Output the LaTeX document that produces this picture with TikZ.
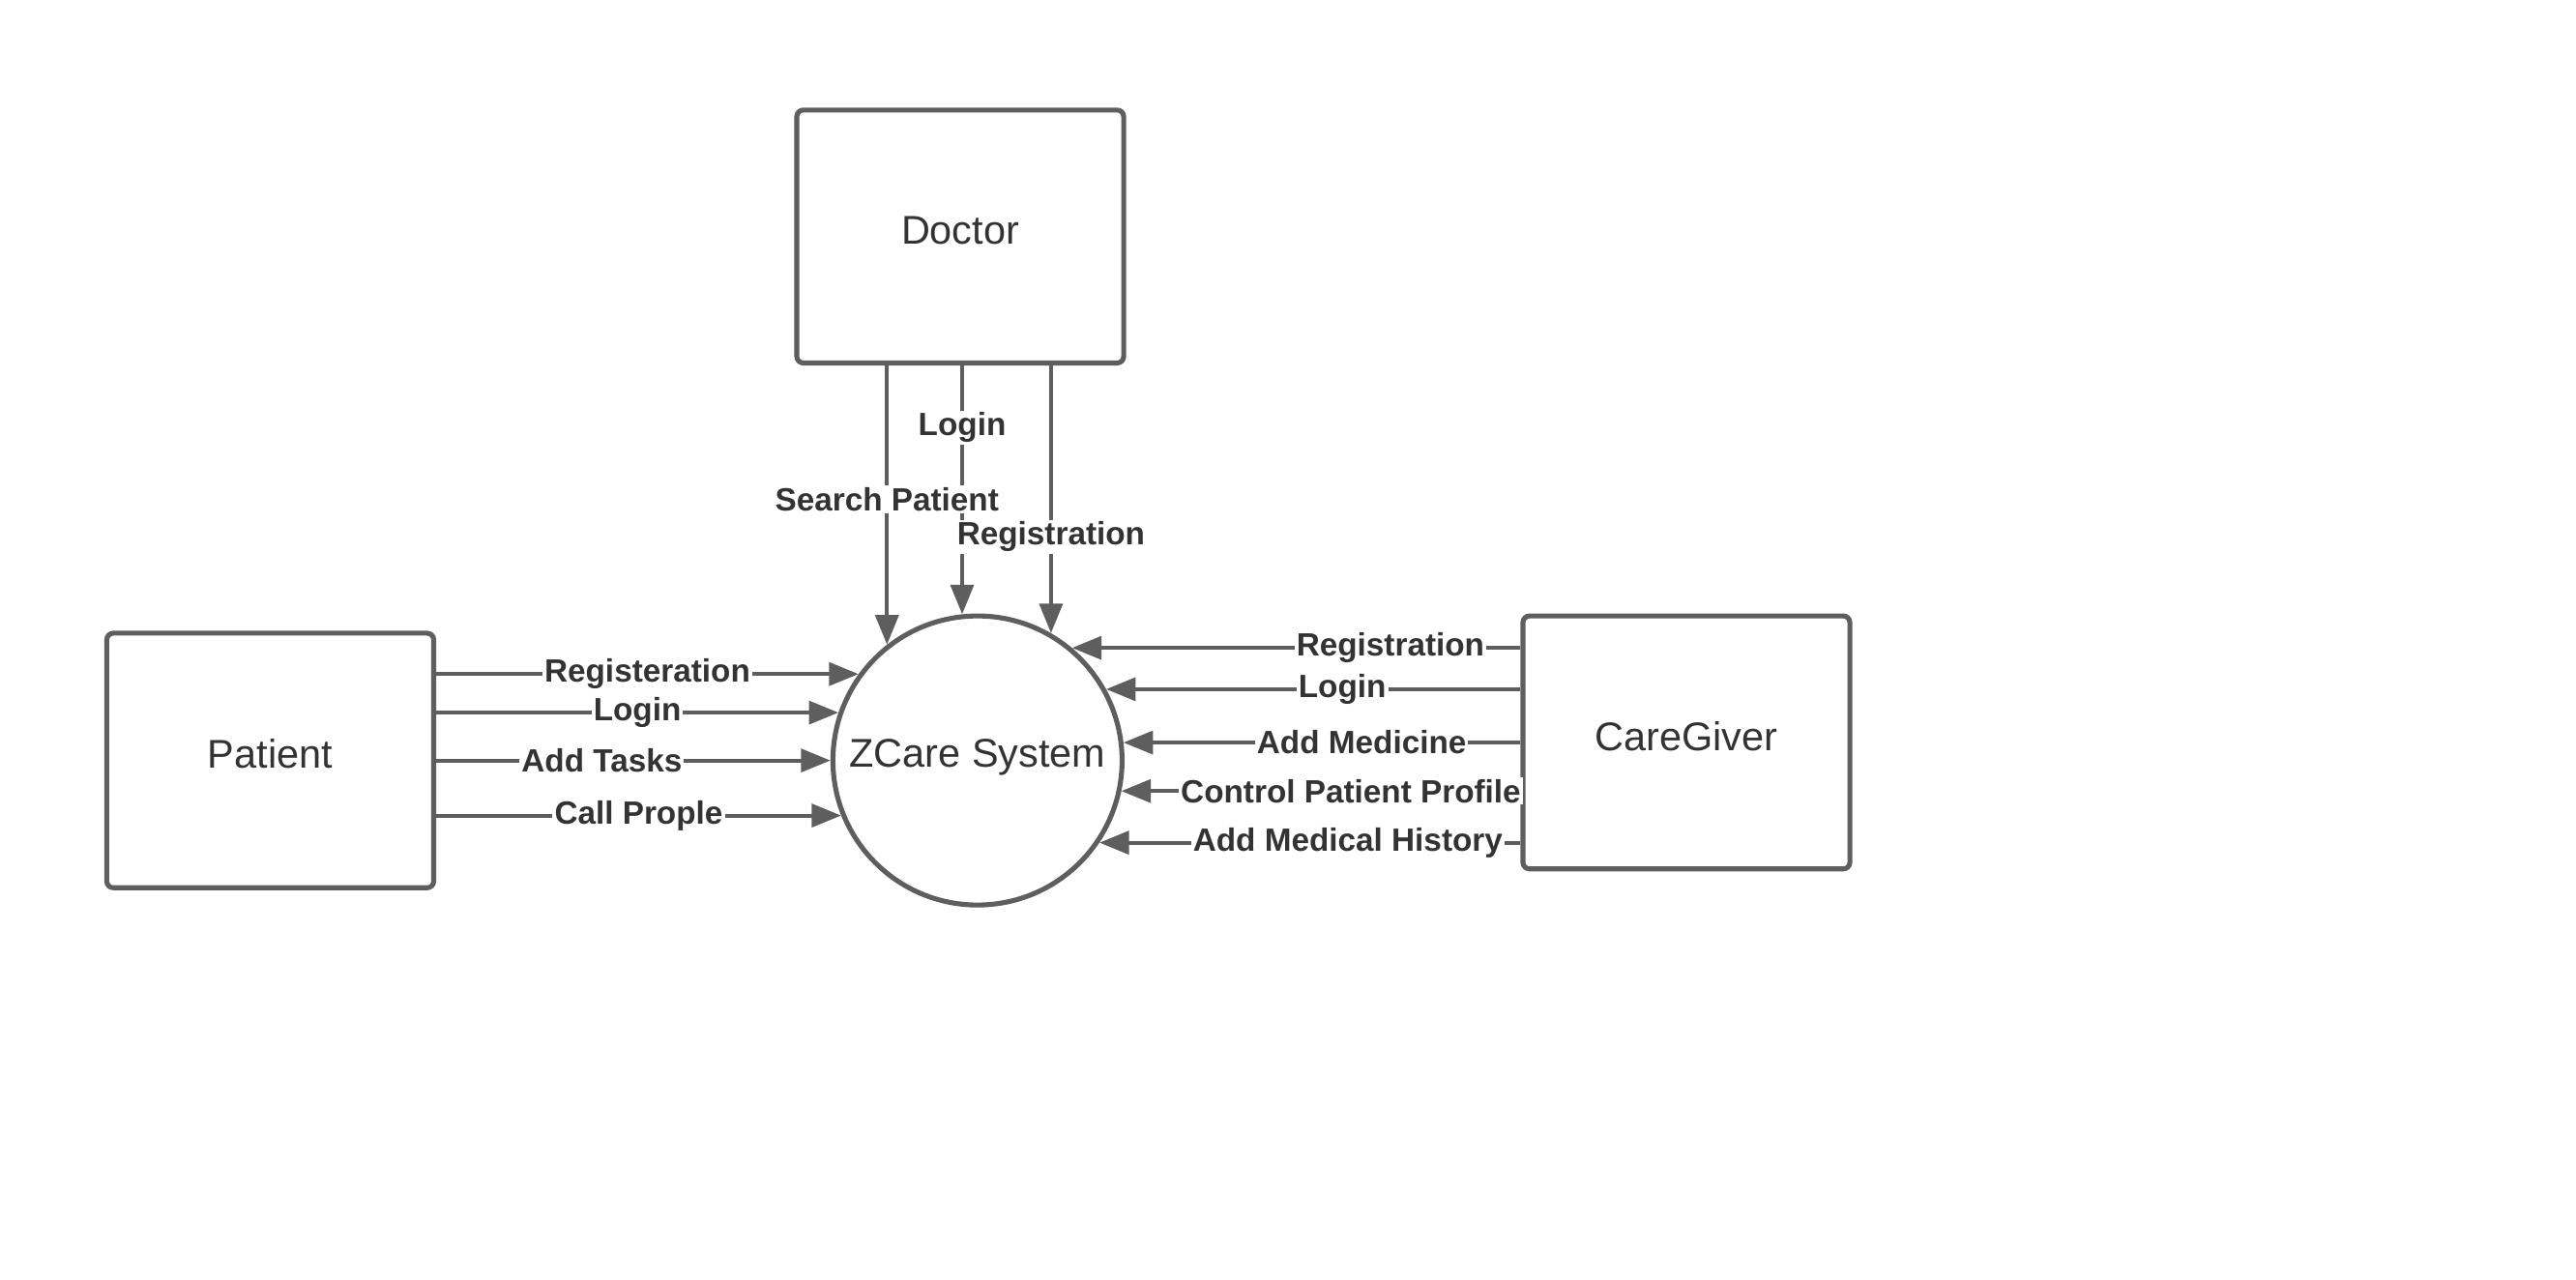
\documentclass[tikz,border=0pt]{standalone}
\usepackage{fontspec}
\setmainfont{Liberation Sans}
\usetikzlibrary{positioning,arrows.meta}
\definecolor{flowgray}{HTML}{5E5E5E}
\definecolor{txtgray}{HTML}{333333}

\begin{document}
\begin{tikzpicture}[x=0.5pt,y=-0.5pt,
   entity/.style={draw=flowgray,line width=1.5pt,rounded corners=2pt,minimum width=99.5pt,
   minimum height=77pt,text depth=4pt,text=txtgray,font=\fontsize{12.2}{14}\selectfont},
   proc/.style={circle,draw=flowgray,line width=1.5pt,minimum size=88pt,inner sep=0pt,
   text depth=4.5pt,text=txtgray,font=\fontsize{12.2}{14}\selectfont},
   flow/.style={draw=flowgray,line width=1.2pt,-{Triangle[length=9pt,width=7pt]}},
   lbl/.style={fill=white,inner sep=0.6pt,text=txtgray,font=\fontsize{9.8}{11}\selectfont\bfseries}]

 \useasboundingbox (0,0) rectangle (1568,779);

 \node[proc] (zsys) at (595,463) {ZCare System};
 \node[entity, above=75.5pt of zsys, xshift=-5.25pt] (doctor) {Doctor};
 \node[entity, left=120pt of zsys, minimum height=77.5pt] (patient) {Patient};
 \node[entity, right=120.5pt of zsys, yshift=5.5pt] (caregiver) {CareGiver};

 %doctor flows, login first so the other labels sit on top of it
 \draw[flow] (doctor.south -| zsys.96.5) -- node[lbl,pos=0.25]{Login} (zsys.96.5);
 \draw[flow] (doctor.south -| zsys.128.7) -- node[lbl,pos=0.48]{Search Patient} (zsys.128.7);
 \draw[flow] (doctor.south -| zsys.60.75) -- node[lbl,pos=0.64]{Registration} (zsys.60.75);

 %patient flows
 \draw[flow] (patient.east |- zsys.144.6) -- node[lbl,pos=0.5]{Registeration} (zsys.144.6);
 \draw[flow] (patient.east |- zsys.161.45) -- node[lbl,pos=0.5]{Login} (zsys.161.45);
 \draw[flow] (patient.east |- zsys.180) -- node[lbl,pos=0.42]{Add Tasks} (zsys.180);
 \draw[flow] (patient.east |- zsys.202.7) -- node[lbl,pos=0.5]{Call Prople} (zsys.202.7);

 %caregiver flows
 \draw[flow] (caregiver.west |- zsys.50.6) -- node[lbl,pos=0.29]{Registration} (zsys.50.6);
 \draw[flow] (caregiver.west |- zsys.29.25) -- node[lbl,pos=0.43]{Login} (zsys.29.25);
 \draw[flow] (caregiver.west |- zsys.7.2) -- node[lbl,pos=0.40]{Add Medicine} (zsys.7.2);
 \draw[flow] (caregiver.west |- zsys.348.9) -- node[lbl,pos=0.425]{Control Patient Profile} (zsys.348.9);
 \draw[flow] (caregiver.west |- zsys.326.2) -- node[lbl,pos=0.41]{Add Medical History} (zsys.326.2);

\end{tikzpicture}
\end{document}
